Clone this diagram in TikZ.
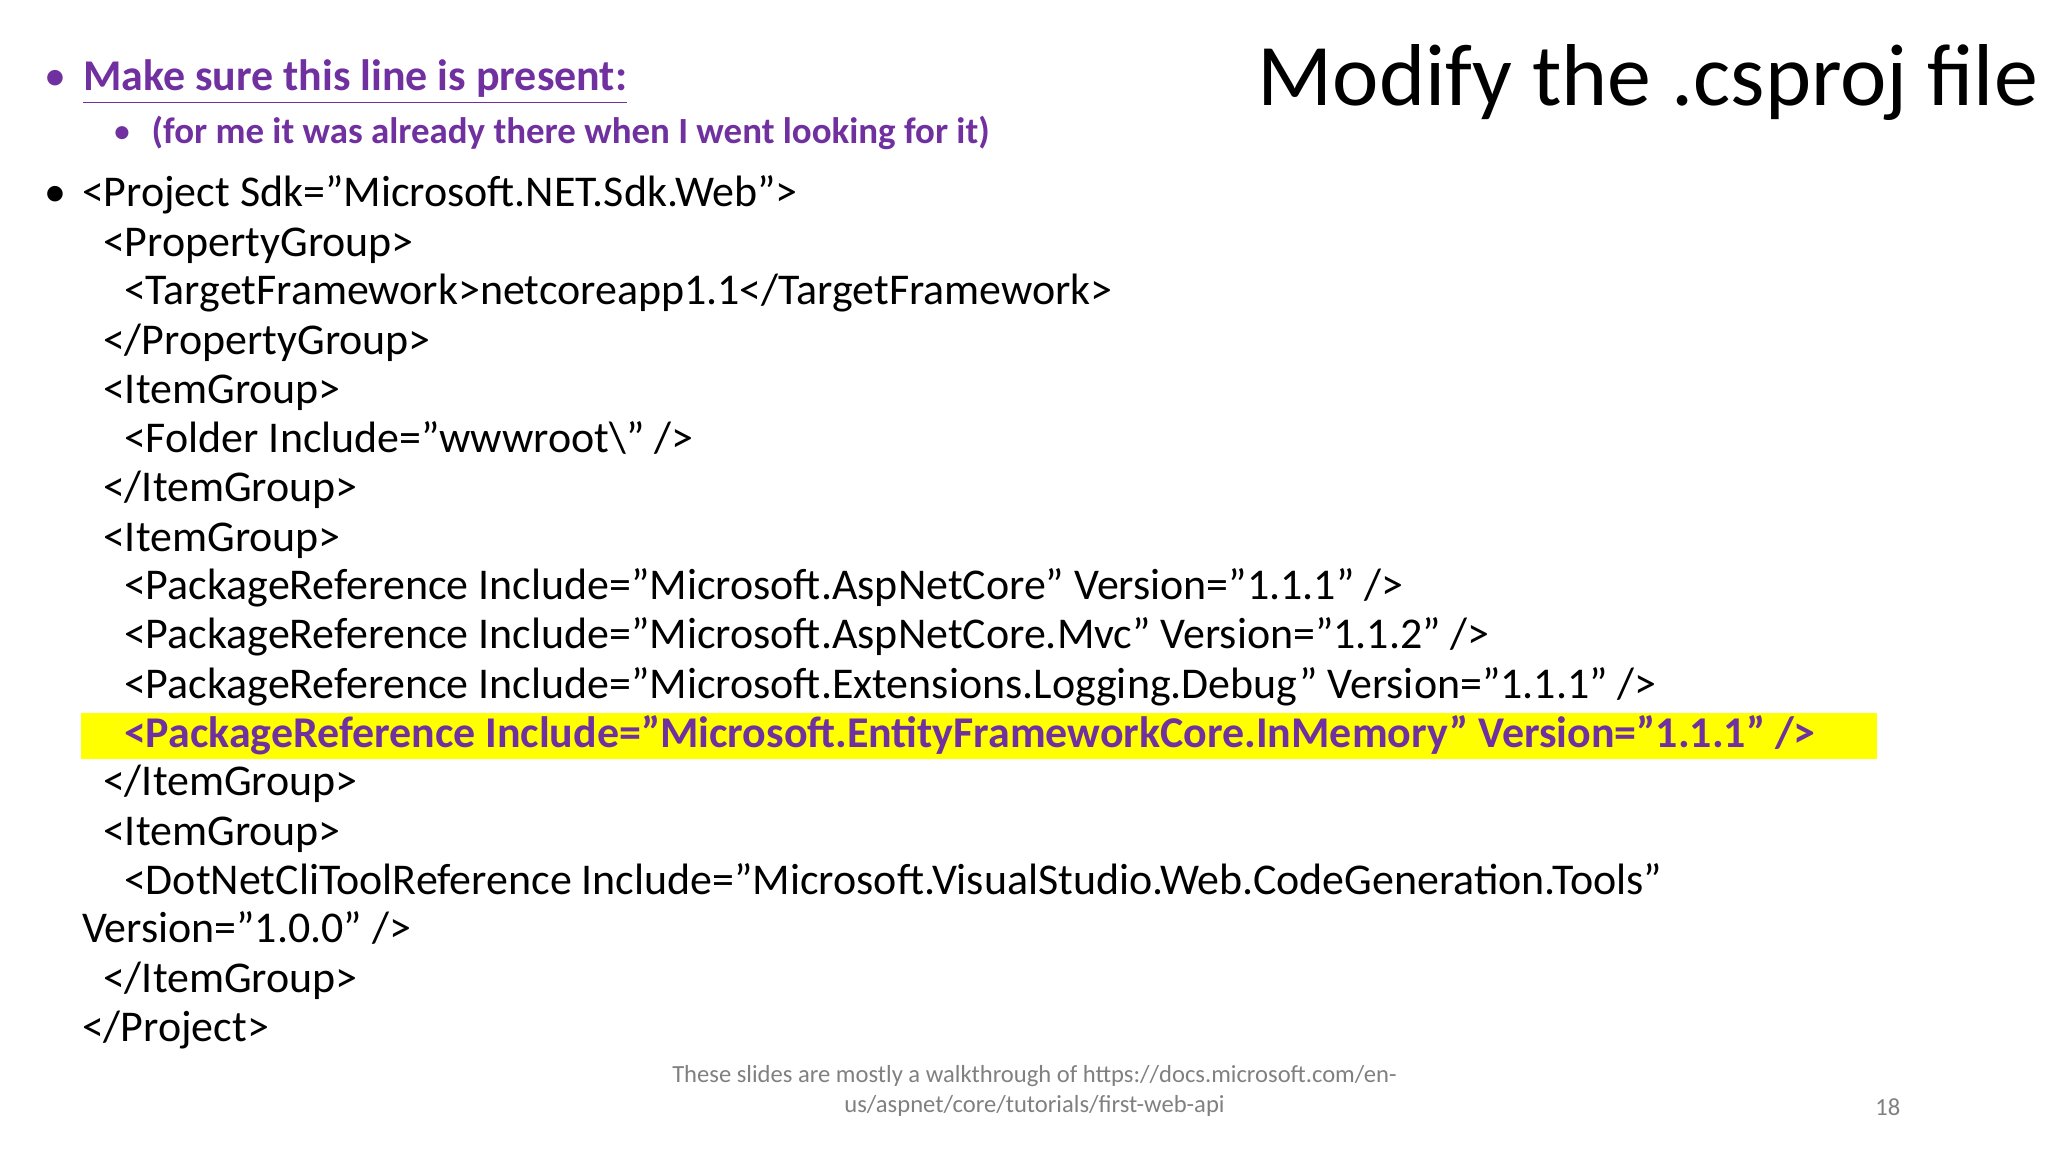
\documentclass[tikz,border=0pt]{standalone}
\usepackage{fontspec}
\setmainfont{Carlito}
\usepackage{xcolor}
\usetikzlibrary{positioning}
\definecolor{slidepurple}{HTML}{7030A0}
\definecolor{hlyellow}{HTML}{FFFF00}
\tikzset{>=stealth}
\tikzset{
  codeline/.style={anchor=base west,inner sep=0pt,font=\fontsize{12.5}{14}\selectfont},
  bulletdot/.style={anchor=base,inner sep=0pt},
}
\begin{document}
\begin{tikzpicture}[x=0.1313mm,y=-0.1313mm]
\useasboundingbox (0,0) rectangle (1560,877);
%Title
\node[anchor=base east,inner sep=0pt,font=\fontsize{25}{28}\selectfont] (title) at (1553,80) {Modify the .csproj file};
%Bullets
\node[bulletdot,text=slidepurple,font=\fontsize{12.5}{14}\selectfont] (b1) at (42,69) {•};
\node[codeline,text=slidepurple,font=\bfseries\fontsize{12.5}{14}\selectfont] (head) at (63,69) {\underline{Make sure this line is present:}};
\node[bulletdot,text=slidepurple,font=\fontsize{10.5}{12}\selectfont] (b2) at (93,109) {•};
\node[codeline,text=slidepurple,font=\bfseries\fontsize{10.5}{12}\selectfont] (sub) at (115,109) {(for me it was already there when I went looking for it)};
\node[bulletdot,font=\fontsize{12.5}{14}\selectfont] (b3) at (42,157) {•};
%Highlight
\fill[hlyellow] (62,543) rectangle (1430,578);
%Code
\node[codeline] (l1) at (62,157) {<Project Sdk="Microsoft.NET.Sdk.Web">};
\node[codeline] (l2) at (78,195) {<PropertyGroup>};
\node[codeline] (l3) at (94,232) {<TargetFramework>netcoreapp1.1</TargetFramework>};
\node[codeline] (l4) at (78,270) {</PropertyGroup>};
\node[codeline] (l5) at (78,307) {<ItemGroup>};
\node[codeline] (l6) at (94,345) {<Folder Include="wwwroot\textbackslash" />};
\node[codeline] (l7) at (78,382) {</ItemGroup>};
\node[codeline] (l8) at (78,420) {<ItemGroup>};
\node[codeline] (l9) at (94,457) {<PackageReference Include="Microsoft.AspNetCore" Version="1.1.1" />};
\node[codeline] (l10) at (94,494) {<PackageReference Include="Microsoft.AspNetCore.Mvc" Version="1.1.2" />};
\node[codeline] (l11) at (94,532) {<PackageReference Include="Microsoft.Extensions.Logging.Debug" Version="1.1.1" />};
\node[codeline,text=slidepurple,font=\bfseries\fontsize{12.5}{14}\selectfont] (l12) at (94,569) {<PackageReference Include="Microsoft.EntityFrameworkCore.InMemory" Version="1.1.1" />};
\node[codeline] (l13) at (78,606) {</ItemGroup>};
\node[codeline] (l14) at (78,644) {<ItemGroup>};
\node[codeline] (l15) at (94,681) {<DotNetCliToolReference Include="Microsoft.VisualStudio.Web.CodeGeneration.Tools"};
\node[codeline] (l16) at (62,718) {Version="1.0.0" />};
\node[codeline] (l17) at (78,756) {</ItemGroup>};
\node[codeline] (l18) at (62,793) {</Project>};
%Footer
\node[align=center,text=gray,inner sep=0pt,font=\fontsize{7}{8.7}\selectfont] (foot) at (788,831) {These slides are mostly a walkthrough of https://docs.microsoft.com/en-\\us/aspnet/core/tutorials/first-web-api};
\node[text=gray,inner sep=0pt,font=\fontsize{7}{8.7}\selectfont] (page) at (1438,843) {18};
\end{tikzpicture}
\end{document}
